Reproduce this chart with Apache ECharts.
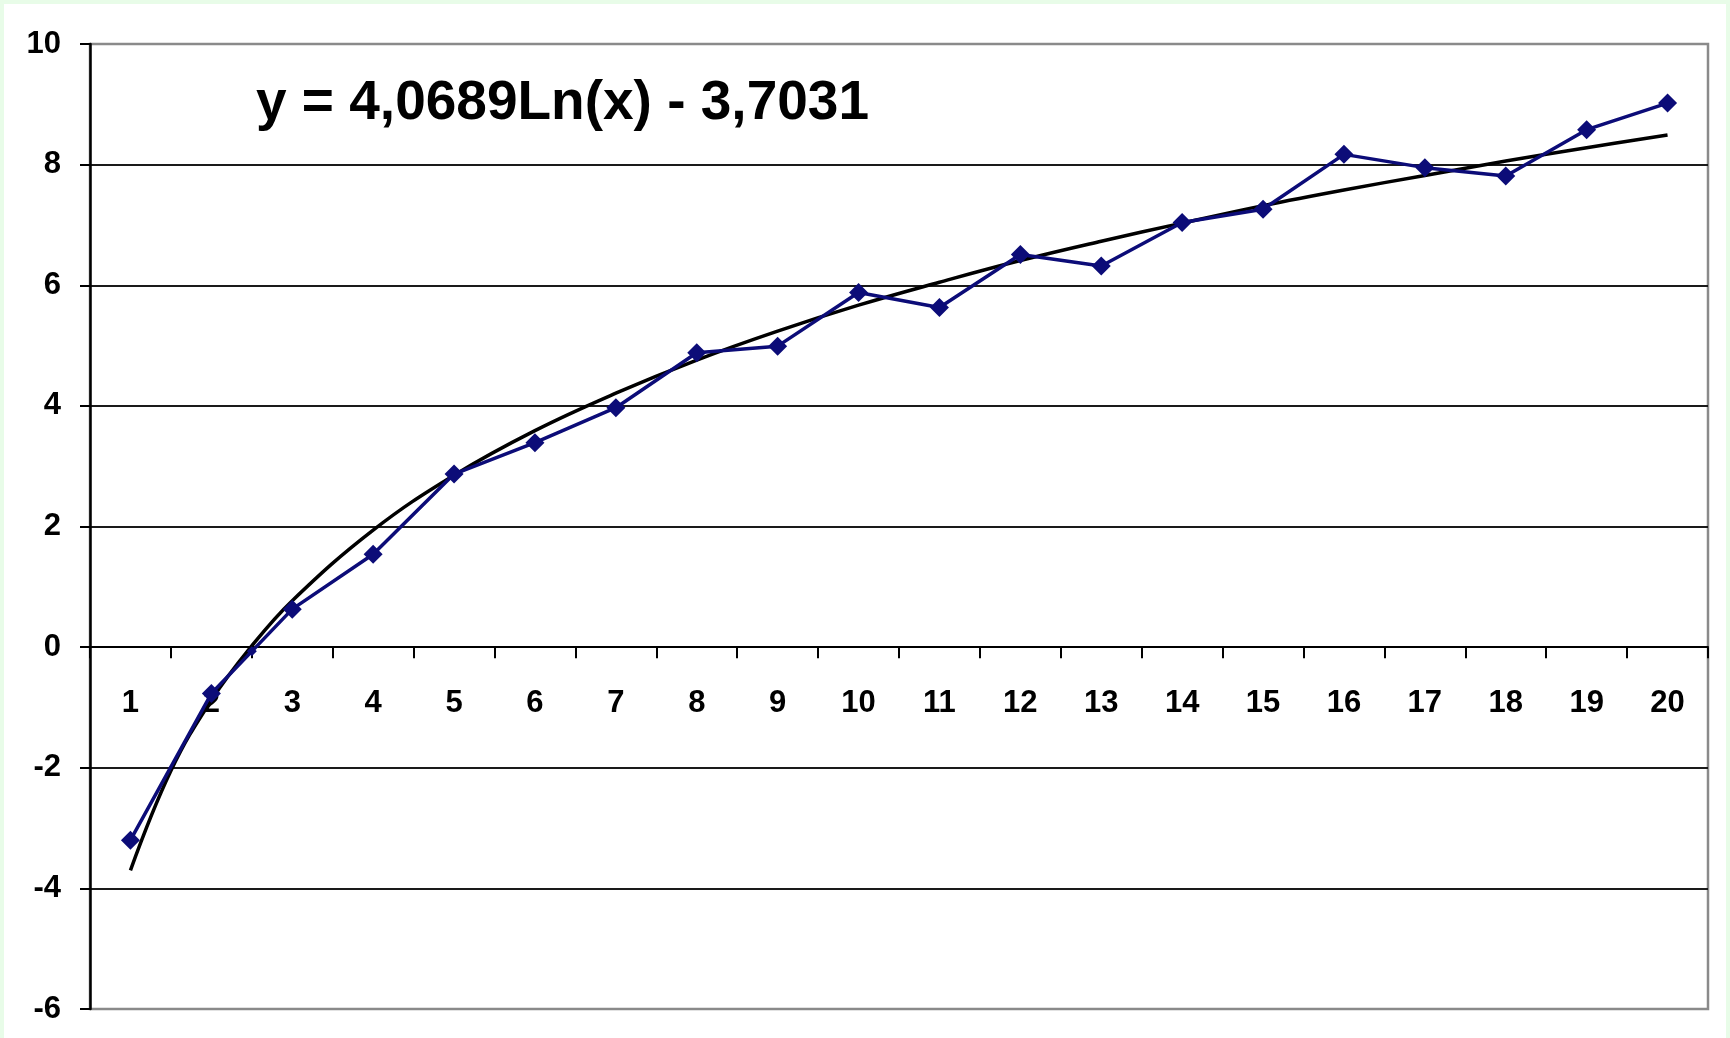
<!DOCTYPE html>
<html>
<head>
<meta charset="utf-8">
<script src="https://cdn.jsdelivr.net/npm/echarts@6/dist/echarts.min.js"></script>
<style>
  html, body { margin: 0; padding: 0; width: 1730px; height: 1038px; background: #e8fce8; overflow: hidden; }
  #paper { position: absolute; left: 4px; top: 4px; width: 1722px; height: 1034px; background: #ffffff; }
  #chart { position: absolute; left: 0; top: 0; width: 1730px; height: 1038px; }
</style>
</head>
<body>
<div id="paper"></div>
<div id="chart"></div>
<script>
// Categories shown on the x axis
const categories = ['1','2','3','4','5','6','7','8','9','10','11','12','13','14','15','16','17','18','19','20'];
const dataX = [1, 2, 2.5, 3, 4, 5, 6, 7, 8, 9, 10, 11, 12, 13, 14, 15, 16, 17, 18, 19, 20];
const dataY = [-3.20, -0.77, -0.07, 0.63, 1.54, 2.87, 3.39, 3.97, 4.88, 4.99, 5.88, 5.63, 6.51, 6.32, 7.04, 7.26, 8.17, 7.95, 7.81, 8.58, 9.02];
// Logarithmic trend line
const trendX = [1, 1.5, 2, 2.5, 3, 4, 5, 6, 7, 8, 9, 10, 11, 12, 13, 14, 15, 16, 17, 18, 19, 20];
const trendY = [-3.70, -2.05, -0.88, 0.02, 0.77, 1.94, 2.85, 3.59, 4.21, 4.76, 5.24, 5.67, 6.05, 6.41, 6.73, 7.03, 7.32, 7.58, 7.82, 8.06, 8.28, 8.49];
// Y axis range
const yMin = -6, yMax = 10, yStep = 2;
const equationText = 'y = 4,0689Ln(x) - 3,7031';

const FONT = '"Liberation Sans", Arial, sans-serif';
const chart = echarts.init(document.getElementById('chart'), null, { renderer: 'canvas' });

const splitColors = [];
for (let v = yMin; v <= yMax; v += yStep) {
  splitColors.push(v === yMin || v === yMax ? '#8a8a8a' : '#1a1a1a');
}

const option = {
  backgroundColor: 'transparent',
  animation: false,
  grid: {
    left: 90, right: 22, top: 44, bottom: 29,
    containLabel: false,
    outerBoundsMode: 'none',
    show: true, borderColor: '#8a8a8a', borderWidth: 2.5, backgroundColor: 'transparent'
  },
  xAxis: [
    {
      type: 'category',
      data: categories,
      boundaryGap: true,
      position: 'bottom',
      offset: 0,
      axisLine: { onZero: false, lineStyle: { color: '#000', width: 2 } },
      axisTick: { show: true, inside: false, length: 11, alignWithLabel: false, lineStyle: { color: '#000', width: 2 } },
      axisLabel: { interval: 0, margin: 41, color: '#000', fontFamily: FONT, fontWeight: 'bold', fontSize: 31 },
      splitLine: { show: false }
    },
    {
      type: 'value',
      min: 0.5, max: 20.5,
      show: false,
      splitLine: { show: false }
    }
  ],
  yAxis: {
    type: 'value',
    min: yMin, max: yMax, interval: yStep,
    axisLine: { show: true, onZero: false, lineStyle: { color: '#000', width: 2.5 } },
    axisTick: { show: true, inside: false, length: 10, lineStyle: { color: '#000', width: 2 } },
    axisLabel: { margin: 29, color: '#000', fontFamily: FONT, fontWeight: 'bold', fontSize: 31 },
    splitLine: { show: true, lineStyle: { color: splitColors, width: 2 } }
  },
  series: [
    {
      name: 'trend',
      type: 'line',
      xAxisIndex: 1,
      data: trendX.map((x, i) => [x, trendY[i]]),
      smooth: 0.4,
      showSymbol: false,
      symbol: 'none',
      lineStyle: { color: '#000', width: 3.5 },
      z: 2
    },
    {
      name: 'data',
      type: 'line',
      xAxisIndex: 1,
      data: dataX.map((x, i) => [x, dataY[i]]),
      symbol: 'diamond',
      symbolSize: (v) => (v[0] % 1 ? 10 : 19),
      lineStyle: { color: '#0c0c78', width: 3.5 },
      itemStyle: { color: '#0c0c78' },
      z: 3
    }
  ],
  graphic: [
    {
      type: 'text',
      left: 256,
      top: 76,
      style: {
        text: equationText,
        font: 'bold 55px ' + FONT,
        fill: '#000'
      },
      z: 10
    }
  ]
};
chart.setOption(option);

// Move the category axis up to the y = 0 line, measured through the y scale
const zeroPx = chart.convertToPixel({ yAxisIndex: 0 }, 0);
const bottomPx = chart.convertToPixel({ yAxisIndex: 0 }, yMin);
chart.setOption({ xAxis: [{ offset: -(bottomPx - zeroPx) }, {}] });
</script>
</body>
</html>
